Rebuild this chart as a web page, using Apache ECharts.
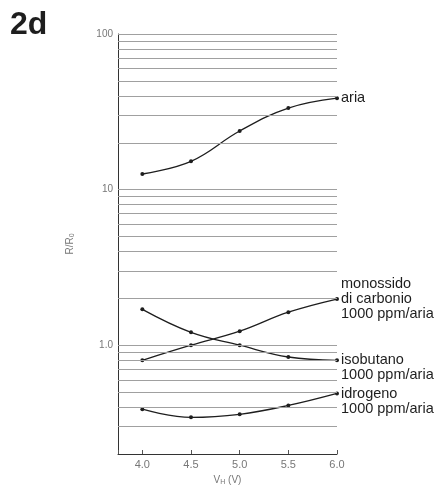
<!DOCTYPE html>
<html>
<head>
<meta charset="utf-8">
<script src="https://cdn.jsdelivr.net/npm/echarts@6/dist/echarts.min.js"></script>
<style>
  html, body { margin: 0; padding: 0; background: #ffffff; }
  #chart { width: 444px; height: 493px; }
</style>
</head>
<body>
<div id="chart"></div>
<script>
// heater voltage (V)
const voltages = [4.0, 4.5, 5.0, 5.5, 6.0];

// R/R0
const aria = [12.6, 15.2, 23.8, 33.4, 38.7];
const monossido = [0.80, 1.0, 1.23, 1.63, 1.98];
const isobutano = [1.70, 1.21, 1.0, 0.84, 0.80];
const idrogeno = [0.388, 0.344, 0.36, 0.41, 0.49];

const xTickLabels = ['4.0', '4.5', '5.0', '5.5', '6.0'];
const yTickLabels = { 1: '1.0', 10: '10', 100: '100' };

// horizontal log grid
const gridValues = [
  0.3, 0.4, 0.5, 0.6, 0.7, 0.8, 0.9,
  1, 2, 3, 4, 5, 6, 7, 8, 9,
  10, 20, 30, 40, 50, 60, 70, 80, 90, 100
];

const chart = echarts.init(document.getElementById('chart'));

const font = 'Liberation Sans, Arial, sans-serif';
const ink = '#1e1e1e';

const makeSeries = (name, values, labelText, offsetY) => ({
  name: name,
  type: 'line',
  data: values.map((v, i) => [voltages[i], v]),
  smooth: 0.4,
  symbol: 'circle',
  symbolSize: 4,
  lineStyle: { color: ink, width: 1.3 },
  itemStyle: { color: ink },
  endLabel: {
    show: true,
    formatter: labelText,
    distance: 4,
    offset: [0, offsetY],
    color: ink,
    fontFamily: font,
    fontSize: 14.5,
    lineHeight: 15,
    align: 'left'
  }
});

const option = {
  backgroundColor: '#ffffff',
  animation: false,
  title: {
    text: '2d',
    left: 5,
    top: 4,
    textStyle: { fontFamily: font, fontSize: 32, fontWeight: 'bold', color: ink }
  },
  grid: { left: 118, right: 107, top: 34, bottom: 39 },
  xAxis: {
    type: 'value',
    min: 3.75,
    max: 6.0,
    name: 'V{sub|H} (V)',
    nameLocation: 'middle',
    nameGap: 21,
    nameTextStyle: {
      color: '#777',
      fontFamily: font,
      fontSize: 10,
      rich: { sub: { fontSize: 7, verticalAlign: 'bottom', color: '#777', padding: [4, 0, 0, 0] } }
    },
    axisLine: { lineStyle: { color: '#333', width: 1 } },
    axisTick: { show: true, inside: true, length: 4, lineStyle: { color: '#555' } },
    splitLine: { show: false },
    axisLabel: {
      color: '#777',
      fontFamily: font,
      fontSize: 11,
      margin: 5,
      formatter: v => (xTickLabels.includes(v.toFixed(1)) && Math.abs(v * 2 - Math.round(v * 2)) < 1e-6) ? v.toFixed(1) : ''
    }
  },
  yAxis: {
    type: 'log',
    logBase: 10,
    min: 0.2,
    max: 100,
    name: 'R/R{sub|0}',
    nameLocation: 'middle',
    nameRotate: 90,
    nameGap: 42,
    nameTextStyle: {
      color: '#777',
      fontFamily: font,
      fontSize: 10,
      rich: { sub: { fontSize: 7, color: '#777', padding: [4, 0, 0, 0] } }
    },
    axisLine: { show: true, lineStyle: { color: '#333', width: 1 } },
    axisTick: { show: false },
    splitLine: { show: false },
    axisLabel: {
      color: '#777',
      fontFamily: font,
      fontSize: 10,
      margin: 5,
      formatter: v => {
        const key = Math.round(v * 1000) / 1000;
        return yTickLabels[key] || '';
      }
    }
  },
  series: [
    {
      name: 'grid',
      type: 'line',
      data: [],
      silent: true,
      markLine: {
        silent: true,
        symbol: 'none',
        label: { show: false },
        lineStyle: { color: '#a0a0a0', width: 1, type: 'solid' },
        data: gridValues.map(v => ({ yAxis: v }))
      }
    },
    makeSeries('aria', aria, 'aria', 0),
    makeSeries('monossido', monossido, 'monossido\ndi carbonio\n1000 ppm/aria', 0),
    makeSeries('isobutano', isobutano, 'isobutano\n1000 ppm/aria', 7),
    makeSeries('idrogeno', idrogeno, 'idrogeno\n1000 ppm/aria', 8)
  ]
};

chart.setOption(option);
</script>
</body>
</html>
